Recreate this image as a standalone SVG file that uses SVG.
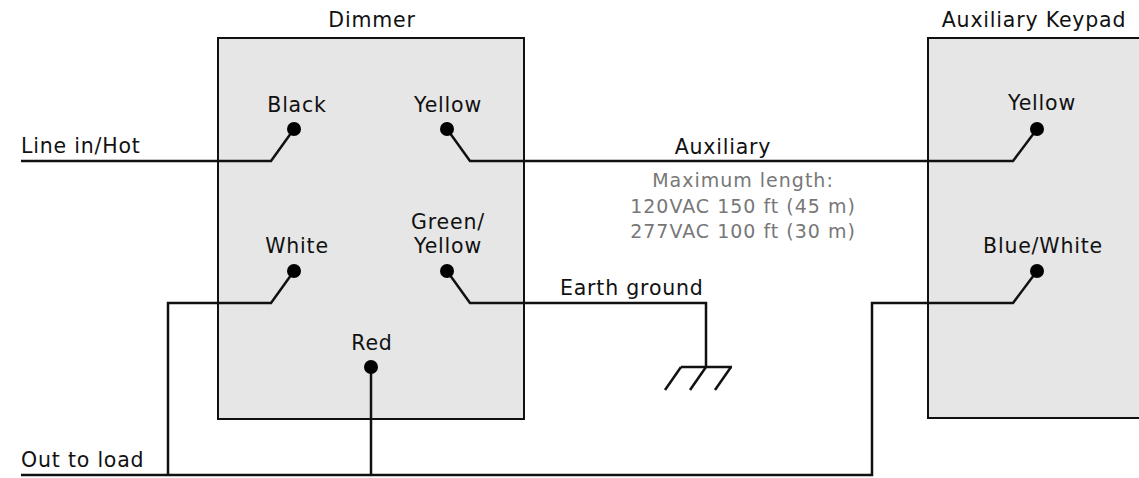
<svg xmlns="http://www.w3.org/2000/svg" width="1139" height="478" viewBox="0 0 1139 478">
<style>
text{font-family:"DejaVu Sans","Liberation Sans",sans-serif;font-size:20.5px;letter-spacing:0.8px;fill:#111}
.c{text-anchor:middle}
.g{fill:#777;font-size:19px;letter-spacing:1px}
.box{fill:#e6e6e6;stroke:#111;stroke-width:2}
.w{fill:none;stroke:#111;stroke-width:2.5}
.dot{fill:#000}
</style>
<rect width="1139" height="478" fill="#fff"/>
<g id="dimmer">
<rect class="box" x="218" y="38" width="306" height="381"/>
<text class="c" x="372" y="27">Dimmer</text>
<text class="c" x="297" y="112">Black</text>
<text class="c" x="448" y="112">Yellow</text>
<text class="c" x="297" y="253">White</text>
<text class="c" x="448" y="229">Green/</text>
<text class="c" x="448" y="253">Yellow</text>
<text class="c" x="372" y="350">Red</text>
</g>
<g id="keypad">
<rect class="box" x="928" y="38" width="220" height="380"/>
<text class="c" x="1034" y="27">Auxiliary Keypad</text>
<text class="c" x="1042" y="110">Yellow</text>
<text class="c" x="1043" y="253">Blue/White</text>
</g>
<g id="connectors">
<polyline class="w" points="21,161 271,161 294,129"/>
<polyline class="w" points="447,129 470,161 1013,161 1037,129"/>
<polyline class="w" points="294,271 271,303 168,303 168,475"/>
<polyline class="w" points="447,271 470,303 706,303 706,367"/>
<polyline class="w" points="371,367 371,475"/>
<polyline class="w" points="21,475 872,475 872,303 1013,303 1037,271"/>
<g id="ground">
<line class="w" x1="681" y1="367" x2="732" y2="367"/>
<line class="w" x1="681" y1="367" x2="665" y2="390"/>
<line class="w" x1="706" y1="367" x2="690" y2="390"/>
<line class="w" x1="731" y1="367" x2="715" y2="390"/>
</g>
<circle class="dot" cx="294" cy="129" r="7"/>
<circle class="dot" cx="447" cy="129" r="7"/>
<circle class="dot" cx="294" cy="271" r="7"/>
<circle class="dot" cx="447" cy="271" r="7"/>
<circle class="dot" cx="371" cy="367" r="7"/>
<circle class="dot" cx="1037" cy="129" r="7"/>
<circle class="dot" cx="1037" cy="271" r="7"/>
</g>
<g id="labels">
<text x="21" y="153">Line in/Hot</text>
<text x="21" y="467">Out to load</text>
<text class="c" x="723" y="154">Auxiliary</text>
<text class="c g" x="743" y="187">Maximum length:</text>
<text class="c g" x="743" y="213">120VAC 150 ft (45 m)</text>
<text class="c g" x="743" y="238">277VAC 100 ft (30 m)</text>
<text x="560" y="295">Earth ground</text>
</g>
</svg>
